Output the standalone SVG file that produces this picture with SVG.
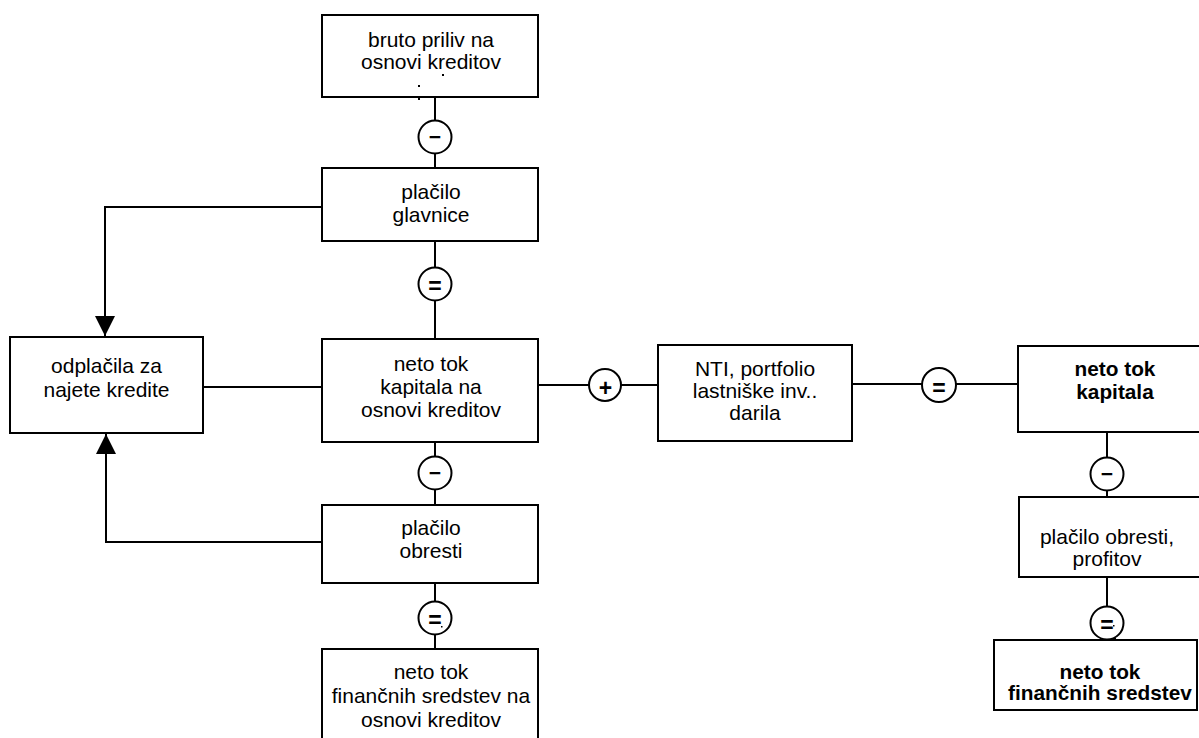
<svg xmlns="http://www.w3.org/2000/svg" width="1199" height="738" viewBox="0 0 1199 738">
<defs>
<style>
.box{fill:#fff;stroke:#000;stroke-width:2}
.ln{fill:none;stroke:#000;stroke-width:2}
.op{fill:#fff;stroke:#000;stroke-width:2}
.t{font-family:"Liberation Sans",Arial,sans-serif;font-size:21px;fill:#000;text-anchor:middle}
.b{font-family:"Liberation Sans",Arial,sans-serif;font-size:20.8px;font-weight:bold;fill:#000;text-anchor:middle}
.s{font-family:"Liberation Sans",Arial,sans-serif;font-size:23px;font-weight:bold;fill:#000;text-anchor:middle}
.m{font-family:"Liberation Sans",Arial,sans-serif;font-size:21px;font-weight:bold;fill:#000;text-anchor:middle}
</style>
<marker id="arr" viewBox="0 0 20 20" refX="20" refY="10" markerWidth="20" markerHeight="20" orient="auto" markerUnits="userSpaceOnUse"><path d="M0,0 L20,10 L0,20 z" fill="#000"/></marker>
</defs>
<rect width="1199" height="738" fill="#fff"/>
<g id="connectors">
<path class="ln" d="M435,97 V168"/>
<path class="ln" d="M435,241 V339"/>
<path class="ln" d="M435,442 V505"/>
<path class="ln" d="M435,583 V649"/>
<path class="ln" d="M322,207 H105 V336" marker-end="url(#arr)"/>
<path class="ln" d="M322,542 H106 V434" marker-end="url(#arr)"/>
<path class="ln" d="M203,387 H322"/>
<path class="ln" d="M538,385 H658"/>
<path class="ln" d="M852,384 H1018"/>
<path class="ln" d="M1107,432 V497"/>
<path class="ln" d="M1107,577 V640"/>
</g>
<g id="op1"><circle class="op" cx="435" cy="137" r="16.5"/><text class="m" x="435" y="144">−</text></g>
<g id="op2"><circle class="op" cx="435" cy="284" r="16.5"/><text class="s" x="435" y="294">=</text></g>
<g id="op3"><circle class="op" cx="435" cy="473" r="16.5"/><text class="m" x="435" y="480">−</text></g>
<g id="op4"><circle class="op" cx="435" cy="618" r="16.5"/><text class="s" x="435" y="628">=</text></g>
<g id="op5"><circle class="op" cx="605" cy="385" r="16"/><text class="s" x="605.5" y="396">+</text></g>
<g id="op6"><circle class="op" cx="939" cy="385" r="17"/><text class="s" x="939" y="396">=</text></g>
<g id="op7"><circle class="op" cx="1107" cy="474" r="16.5"/><text class="m" x="1107" y="481">−</text></g>
<g id="op8"><circle class="op" cx="1107" cy="623" r="16.5"/><text class="s" x="1107" y="633">=</text></g>
<g id="n-bruto"><rect class="box" x="322" y="15" width="216" height="82"/><text class="t" x="431" y="47">bruto priliv na</text><text class="t" x="431" y="69">osnovi kreditov</text></g>
<g id="n-glavnice"><rect class="box" x="322" y="168" width="216" height="73"/><text class="t" x="431" y="199">plačilo</text><text class="t" x="431" y="222">glavnice</text></g>
<g id="n-odplacila"><rect class="box" x="10" y="337" width="193" height="96"/><text class="t" x="106.5" y="373">odplačila za</text><text class="t" x="106.5" y="397">najete kredite</text></g>
<g id="n-netotok"><rect class="box" x="322" y="339" width="216" height="103"/><text class="t" x="431" y="371">neto tok</text><text class="t" x="431" y="394">kapitala na</text><text class="t" x="431" y="417">osnovi kreditov</text></g>
<g id="n-obresti"><rect class="box" x="322" y="505" width="216" height="78"/><text class="t" x="431" y="535">plačilo</text><text class="t" x="431" y="558">obresti</text></g>
<g id="n-financnih"><rect class="box" x="322" y="649" width="216" height="98"/><text class="t" x="431" y="679">neto tok</text><text class="t" x="431" y="703">finančnih sredstev na</text><text class="t" x="431" y="727">osnovi kreditov</text></g>
<g id="n-nti"><rect class="box" x="658" y="345" width="194" height="96"/><text class="t" x="755" y="376">NTI, portfolio</text><text class="t" x="755" y="398">lastniške inv..</text><text class="t" x="755" y="420">darila</text></g>
<g id="n-kapital"><rect class="box" x="1018" y="346" width="200" height="86"/><text class="b" x="1115" y="376">neto tok</text><text class="b" x="1115" y="399">kapitala</text></g>
<g id="n-profit"><rect class="box" x="1019" y="497" width="200" height="80"/><text class="t" x="1107" y="544">plačilo obresti,</text><text class="t" x="1107" y="566">profitov</text></g>
<g id="n-sredstev"><rect class="box" x="994" y="640" width="203" height="70"/><text class="b" x="1100" y="679">neto tok</text><text class="b" x="1100" y="700">finančnih sredstev</text></g>
<g id="dots" fill="#000">
<rect x="442" y="74" width="2" height="2"/><rect x="418" y="85" width="2" height="2"/><rect x="418" y="98" width="2" height="2"/>
<rect x="441" y="626" width="1.5" height="1.5"/><rect x="1113" y="625" width="1.5" height="1.5"/><rect x="1114" y="638" width="2" height="2"/>
</g>
</svg>
